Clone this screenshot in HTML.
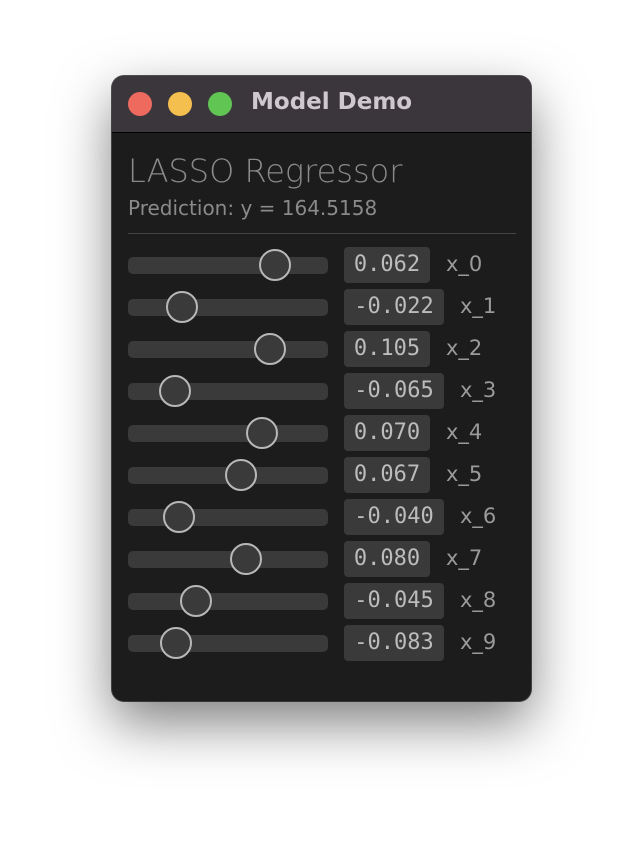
<!DOCTYPE html>
<html><head><meta charset="utf-8"><style>
body{margin:0;width:644px;height:850px;background:#fff;position:relative;overflow:hidden;font-family:"DejaVu Sans","Liberation Sans",sans-serif}
#win{position:absolute;left:112px;top:76px;width:419px;height:625px;border-radius:12px;background:#1c1c1c;box-shadow:0 22px 55px rgba(0,0,0,0.5),0 0 0 1px #555;overflow:hidden}
#titlebar{position:absolute;left:0;top:0;width:100%;height:56px;background:#3b363c;border-bottom:1px solid #000}
.dot{position:absolute;top:16px;width:24px;height:24px;border-radius:50%}
#ttl{position:absolute;left:139px;top:13px;font-size:23px;font-weight:bold;color:#cfc9cf}
#h1{position:absolute;left:16px;top:76px;font-size:32px;color:#8a8a8a;font-weight:300}
#pred{position:absolute;left:16px;top:120px;font-size:20px;color:#8a8a8a}
#sep{position:absolute;left:16px;top:157px;width:388px;height:1px;background:#444}
.track{position:absolute;left:16px;width:200px;height:17px;border-radius:5px;background:#3a3a3a}
.knob{position:absolute;width:28px;height:28px;border-radius:50%;border:2px solid #b8b8b8;background:#3a3a3a;box-sizing:content-box}
.val{position:absolute;left:232px;height:36px;border-radius:4px;background:#3a3a3a;color:#bcbcbc;font-family:"DejaVu Sans Mono","Liberation Mono",monospace;font-size:22px;line-height:36px;text-align:center}
.lab{position:absolute;font-size:21px;color:#9a9a9a;line-height:36px}
</style></head><body>
<div id="win">
<div id="titlebar">
<div class="dot" style="left:16px;background:#ee6a5e"></div>
<div class="dot" style="left:56px;background:#f5bf4f"></div>
<div class="dot" style="left:96px;background:#61c554"></div>
<div id="ttl">Model Demo</div>
</div>
<div id="h1">LASSO Regressor</div>
<div id="pred">Prediction: y = 164.5158</div>
<div id="sep"></div>
<div id="rows"></div>
</div>
<script>
const labels=["x_0","x_1","x_2","x_3","x_4","x_5","x_6","x_7","x_8","x_9"];
const values=["0.062","-0.022","0.105","-0.065","0.070","0.067","-0.040","0.080","-0.045","-0.083"];
const positions=[0.735,0.27,0.71,0.235,0.67,0.565,0.255,0.59,0.34,0.24];
const rows=document.getElementById('rows');
labels.forEach((l,i)=>{
  const cy=189+i*42;
  const t=document.createElement('div');t.className='track';t.style.top=(cy-8)+'px';
  
  
  rows.appendChild(t);
  const k=document.createElement('div');k.className='knob';
  const kx=16+positions[i]*200;
  k.style.left=(kx-16)+'px';k.style.top=(cy-16)+'px';
  
  
  rows.appendChild(k);
  const v=document.createElement('div');v.className='val';
  const neg=values[i].startsWith('-');
  v.style.width=(neg?100:86)+'px';v.style.top=(cy-18)+'px';v.textContent=values[i];
  
  
  rows.appendChild(v);
  const lb=document.createElement('div');lb.className='lab';
  lb.style.left=(neg?348:334)+'px';lb.style.top=(cy-19)+'px';lb.textContent=l;
  
  
  rows.appendChild(lb);
});
</script>
</body></html>
